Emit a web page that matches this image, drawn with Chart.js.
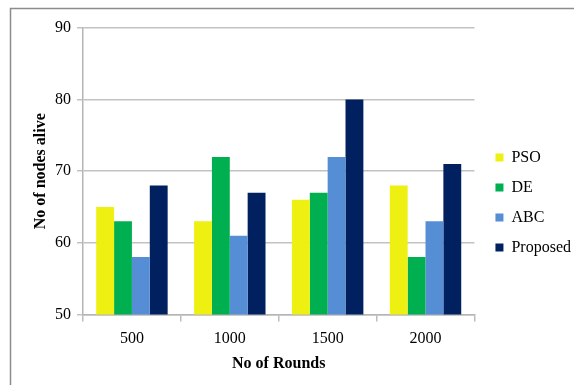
<!DOCTYPE html>
<html><head><meta charset="utf-8">
<script src="https://cdn.jsdelivr.net/npm/chart.js@4/dist/chart.umd.min.js"></script>
<style>html,body{margin:0;padding:0;background:#fff}#wrap{width:574px;height:385px}</style>
</head><body><div id="wrap"><canvas id="c" width="574" height="385"></canvas></div>
<script>
const categories = ["500", "1000", "1500", "2000"];
const pso = [65, 63, 66, 68];
const de = [63, 72, 67, 58];
const abc = [58, 61, 72, 63];
const proposed = [68, 67, 80, 71];
const seriesNames = ["PSO", "DE", "ABC", "Proposed"];
const yTicks = [50, 60, 70, 80, 90];

const colors = ["#eef011", "#00b050", "#558ed5", "#002060"];
const font = "'Liberation Serif', 'Times New Roman', serif";

const frame = {
  id: 'frame',
  afterLayout(chart) {
    const lg = chart.legend;
    if (lg) { lg.left += 7; lg.right += 7; }
  },
  beforeDraw(chart) {
    const ctx = chart.ctx;
    ctx.save();
    ctx.strokeStyle = '#8c8c8c';
    ctx.lineWidth = 1.5;
    ctx.beginPath();
    ctx.moveTo(10.5, 385);
    ctx.lineTo(10.5, 8.5);
    ctx.lineTo(574, 8.5);
    ctx.stroke();
    ctx.restore();
  }
};

new Chart(document.getElementById('c'), {
  type: 'bar',
  data: {
    labels: categories,
    datasets: [pso, de, abc, proposed].map((d, i) => ({
      label: seriesNames[i],
      data: d,
      backgroundColor: colors[i],
      borderWidth: 0,
      barPercentage: 1.0,
      categoryPercentage: 0.73
    }))
  },
  options: {
    responsive: false,
    animation: false,
    layout: { padding: { top: 28, bottom: 8, left: 33, right: 0 } },
    plugins: {
      legend: {
        position: 'right',
        labels: {
          boxWidth: 8, boxHeight: 8, padding: 14,
          color: '#000', font: { family: font, size: 16 },
          useBorderRadius: false
        }
      },
      tooltip: { enabled: false }
    },
    scales: {
      x: {
        grid: { offset: true, drawOnChartArea: false, tickLength: 7, color: '#bdbdbd', lineWidth: 1.5 },
        border: { color: '#b5b5b5', width: 1.5 },
        ticks: { color: '#000', font: { family: font, size: 16 }, padding: 8 },
        title: { display: true, text: 'No of Rounds', color: '#000', font: { family: font, size: 16, weight: 'bold', lineHeight: 0.9 }, padding: { top: 0, bottom: 6 } }
      },
      y: {
        min: 50, max: 90,
        afterBuildTicks(axis) { axis.ticks = yTicks.map(v => ({ value: v })); },
        grid: { color: '#c2c2c2', lineWidth: 1.5, tickLength: 6 },
        border: { color: '#b5b5b5', width: 1.5 },
        ticks: { color: '#000', font: { family: font, size: 16 }, padding: 6 },
        title: { display: true, text: 'No of nodes alive', color: '#000', font: { family: font, size: 16, weight: 'bold', lineHeight: 1 }, padding: { top: 0, bottom: 0 } }
      }
    }
  },
  plugins: [frame]
});
</script></body></html>
